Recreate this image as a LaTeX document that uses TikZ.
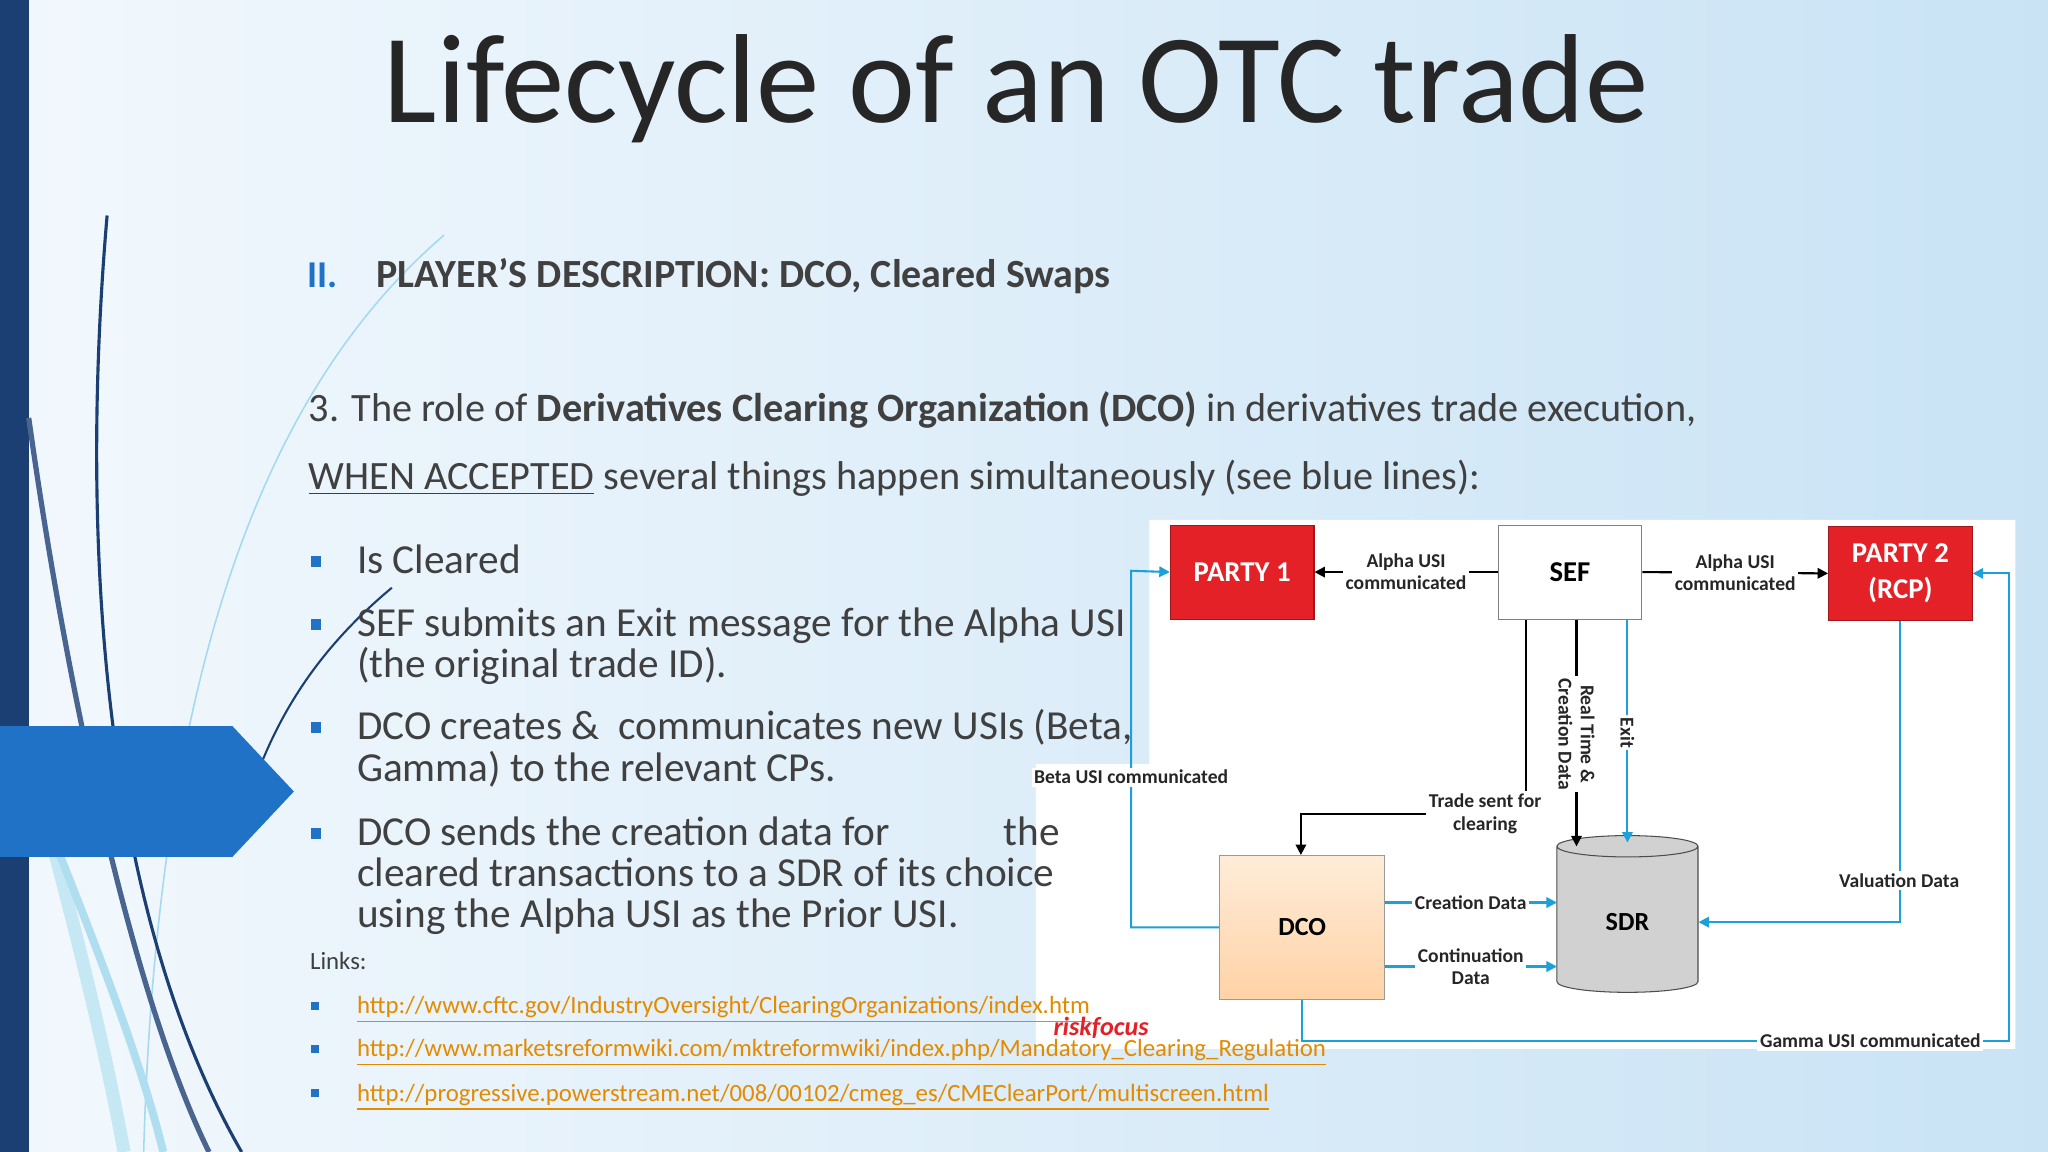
\documentclass[tikz,border=0pt]{standalone}
\usepackage{fontspec}
\setmainfont{Carlito}
\usetikzlibrary{arrows.meta,shapes.geometric}
\definecolor{cy}{HTML}{1BA1D8}
\definecolor{rd}{HTML}{E32127}
\definecolor{navy}{HTML}{1B3F73}
\definecolor{tx}{HTML}{404040}
\definecolor{lnk}{HTML}{E38B00}
\definecolor{bgl}{HTML}{F2F8FD}
\definecolor{bgr}{HTML}{C9E3F5}
\definecolor{arr}{HTML}{1F72C6}
\tikzset{
 lbl/.style={font=\fontsize{7.5}{8.5}\selectfont\bfseries, align=center, fill=white, inner sep=1pt, text=black!85},
 redbox/.style={draw=rd!70!black, fill=rd, text=white, font=\fontsize{11}{14}\selectfont\bfseries, align=center, minimum width=55pt, minimum height=36pt},
 bl/.style={draw=cy, line width=0.8pt, -{Triangle[length=4pt,width=4pt]}},
 bk/.style={draw=black, line width=0.8pt, -{Triangle[length=4pt,width=4pt]}},
 body/.style={anchor=base west, font=\fontsize{15.4}{16}\selectfont, text=tx, inner sep=0pt},
 bbody/.style={anchor=base west, font=\fontsize{15.8}{16}\selectfont, text=tx, inner sep=0pt},
 bul/.style={fill=arr, minimum size=4pt, inner sep=0pt},
 lk/.style={anchor=base west, font=\fontsize{9.5}{10}\selectfont, text=lnk, inner sep=0pt},
}
\begin{document}
\begin{tikzpicture}[x=0.5pt,y=-0.5pt]
\useasboundingbox (0,0) rectangle (1568,882);
\shade[left color=bgl, right color=bgr] (0,0) rectangle (1568,882);
% left bar
\fill[navy] (0,0) rectangle (22,882);
% curves
\draw[cy!40, line width=0.6pt] (340,180) .. controls (200,300) and (120,520) .. (110,882);
\draw[cy!25, line width=5pt] (28,600) .. controls (60,720) and (80,800) .. (95,882);
\draw[cy!35, line width=3pt] (40,640) .. controls (80,740) and (110,820) .. (125,882);
\draw[navy, line width=1.2pt] (82,165) .. controls (60,420) and (80,700) .. (185,882);
\draw[navy!80, line width=2pt] (22,320) .. controls (50,520) and (100,760) .. (160,882);
\draw[navy, line width=0.8pt] (300,450) .. controls (240,500) and (200,560) .. (180,650);
% arrow shape
\fill[arr] (0,556) -- (178,556) -- (225,606) -- (178,656) -- (0,656) -- cycle;
% title
\node[font=\fontsize{48.5}{56}\selectfont, text=black!85] (title) at (778,68) {Lifecycle of an OTC trade};
\node[anchor=base west, font=\fontsize{14.5}{16}\selectfont\bfseries, text=arr, inner sep=0pt] (ii) at (235,220) {II.};
\node[anchor=base west, font=\fontsize{15.3}{16}\selectfont\bfseries, text=tx, inner sep=0pt] (head) at (288,220) {PLAYER’S DESCRIPTION: DCO, Cleared Swaps};
\node[body] (p1) at (236,323) {3. The role of \textbf{Derivatives Clearing Organization (DCO)} in derivatives trade execution,};
\node[body] (p2) at (236,375) {\underline{WHEN ACCEPTED} several things happen simultaneously (see blue lines):};
\foreach \y in {430,478,557,638} \node[bul] at (242,\y) {};
\node[bbody] (b1) at (273,439) {Is Cleared};
\node[bbody] (b2) at (273,487) {SEF submits an Exit message for the Alpha USI};
\node[bbody] (b2b) at (273,519) {(the original trade ID).};
\node[bbody] (b3) at (273,566) {DCO creates \&\ \ communicates new USIs (Beta,};
\node[bbody] (b3b) at (273,598) {Gamma) to the relevant CPs.};
% white panel
\fill[white] (880,398) -- (1543,398) -- (1543,803) -- (793,803) -- (793,585) -- (880,585) -- cycle;
\node[bbody] (b4) at (273,647) {DCO sends the creation data for\hspace{40pt} the};
\node[bbody] (b4b) at (273,679) {cleared transactions to a SDR of its choice};
\node[bbody] (b4c) at (273,710) {using the Alpha USI as the Prior USI.};
\node[anchor=base west, font=\fontsize{9.5}{10}\selectfont, text=tx, inner sep=0pt] (links) at (237,742) {Links:};
\foreach \y in {770,803,837} \node[bul, minimum size=3pt] at (241,\y) {};
\node[lk] (l1) at (273,776) {\underline{http://www.cftc.gov/IndustryOversight/ClearingOrganizations/index.htm}};
\node[lk] (l2) at (273,809) {\underline{http://www.marketsreformwiki.com/mktreformwiki/index.php/Mandatory\_Clearing\_Regulation}};
\node[lk] (l3) at (273,843) {\underline{http://progressive.powerstream.net/008/00102/cmeg\_es/CMEClearPort/multiscreen.html}};
% diagram nodes
\node[redbox] (p1b) at (951,438) {PARTY 1};
\node[draw=black!50, fill=white, font=\fontsize{11}{14}\selectfont\bfseries, minimum width=55pt, minimum height=36pt] (sef) at (1202,438) {SEF};
\node[redbox] (p2b) at (1455,439) {PARTY 2\\(RCP)};
\node[draw=black!40, top color=orange!15, bottom color=orange!35!white, font=\fontsize{10}{12}\selectfont\bfseries, minimum width=63pt, minimum height=55pt] (dco) at (997,710) {DCO};
\node[cylinder, shape border rotate=90, aspect=0.35, draw=black!70, fill=black!18, font=\fontsize{10}{12}\selectfont\bfseries, minimum width=54pt, minimum height=60pt] (sdr) at (1246,706) {SDR};
% connectors
\draw[bk] (sef.west) -- node[lbl]{Alpha USI\\communicated} (p1b.east);
\draw[bk] (sef.east) -- node[lbl]{Alpha USI\\communicated} (p2b.west);
\draw[bk] ([xshift=-17pt]sef.south) |- (996,623) -- (dco.north -| 996,0);
\node[lbl] (tsl) at (1137,623) {Trade sent for\\clearing};
\draw[bk] ([xshift=2.5pt]sef.south) -- (1207,648);
\node[lbl, rotate=-90] at (1207,562) {Real Time \&\\Creation Data};
\draw[bl] ([xshift=22pt]sef.south) -- (1246,645);
\node[lbl, rotate=-90] at (1246,561) {Exit};
\draw[bl] (dco.west) -| (866,437) -- (p1b.west);
\node[lbl] at (866,595) {Beta USI communicated};
\draw[bl] (dco.south) |- (1538,797) |- (p2b.east);
\node[lbl] at (1432,797) {Gamma USI communicated};
\draw[bl] (p2b.south) |- (sdr.east);
\node[lbl] at (1454,674) {Valuation Data};
\draw[bl] (1060,691) -- node[lbl]{Creation Data} (1192,691);
\draw[bl] (1060,740) -- node[lbl]{Continuation\\Data} (1192,740);
\node[font=\fontsize{10}{10}\selectfont\bfseries\itshape, text=rd, inner sep=0pt] (rf) at (843,787) {riskfocus};
\end{tikzpicture}
\end{document}
